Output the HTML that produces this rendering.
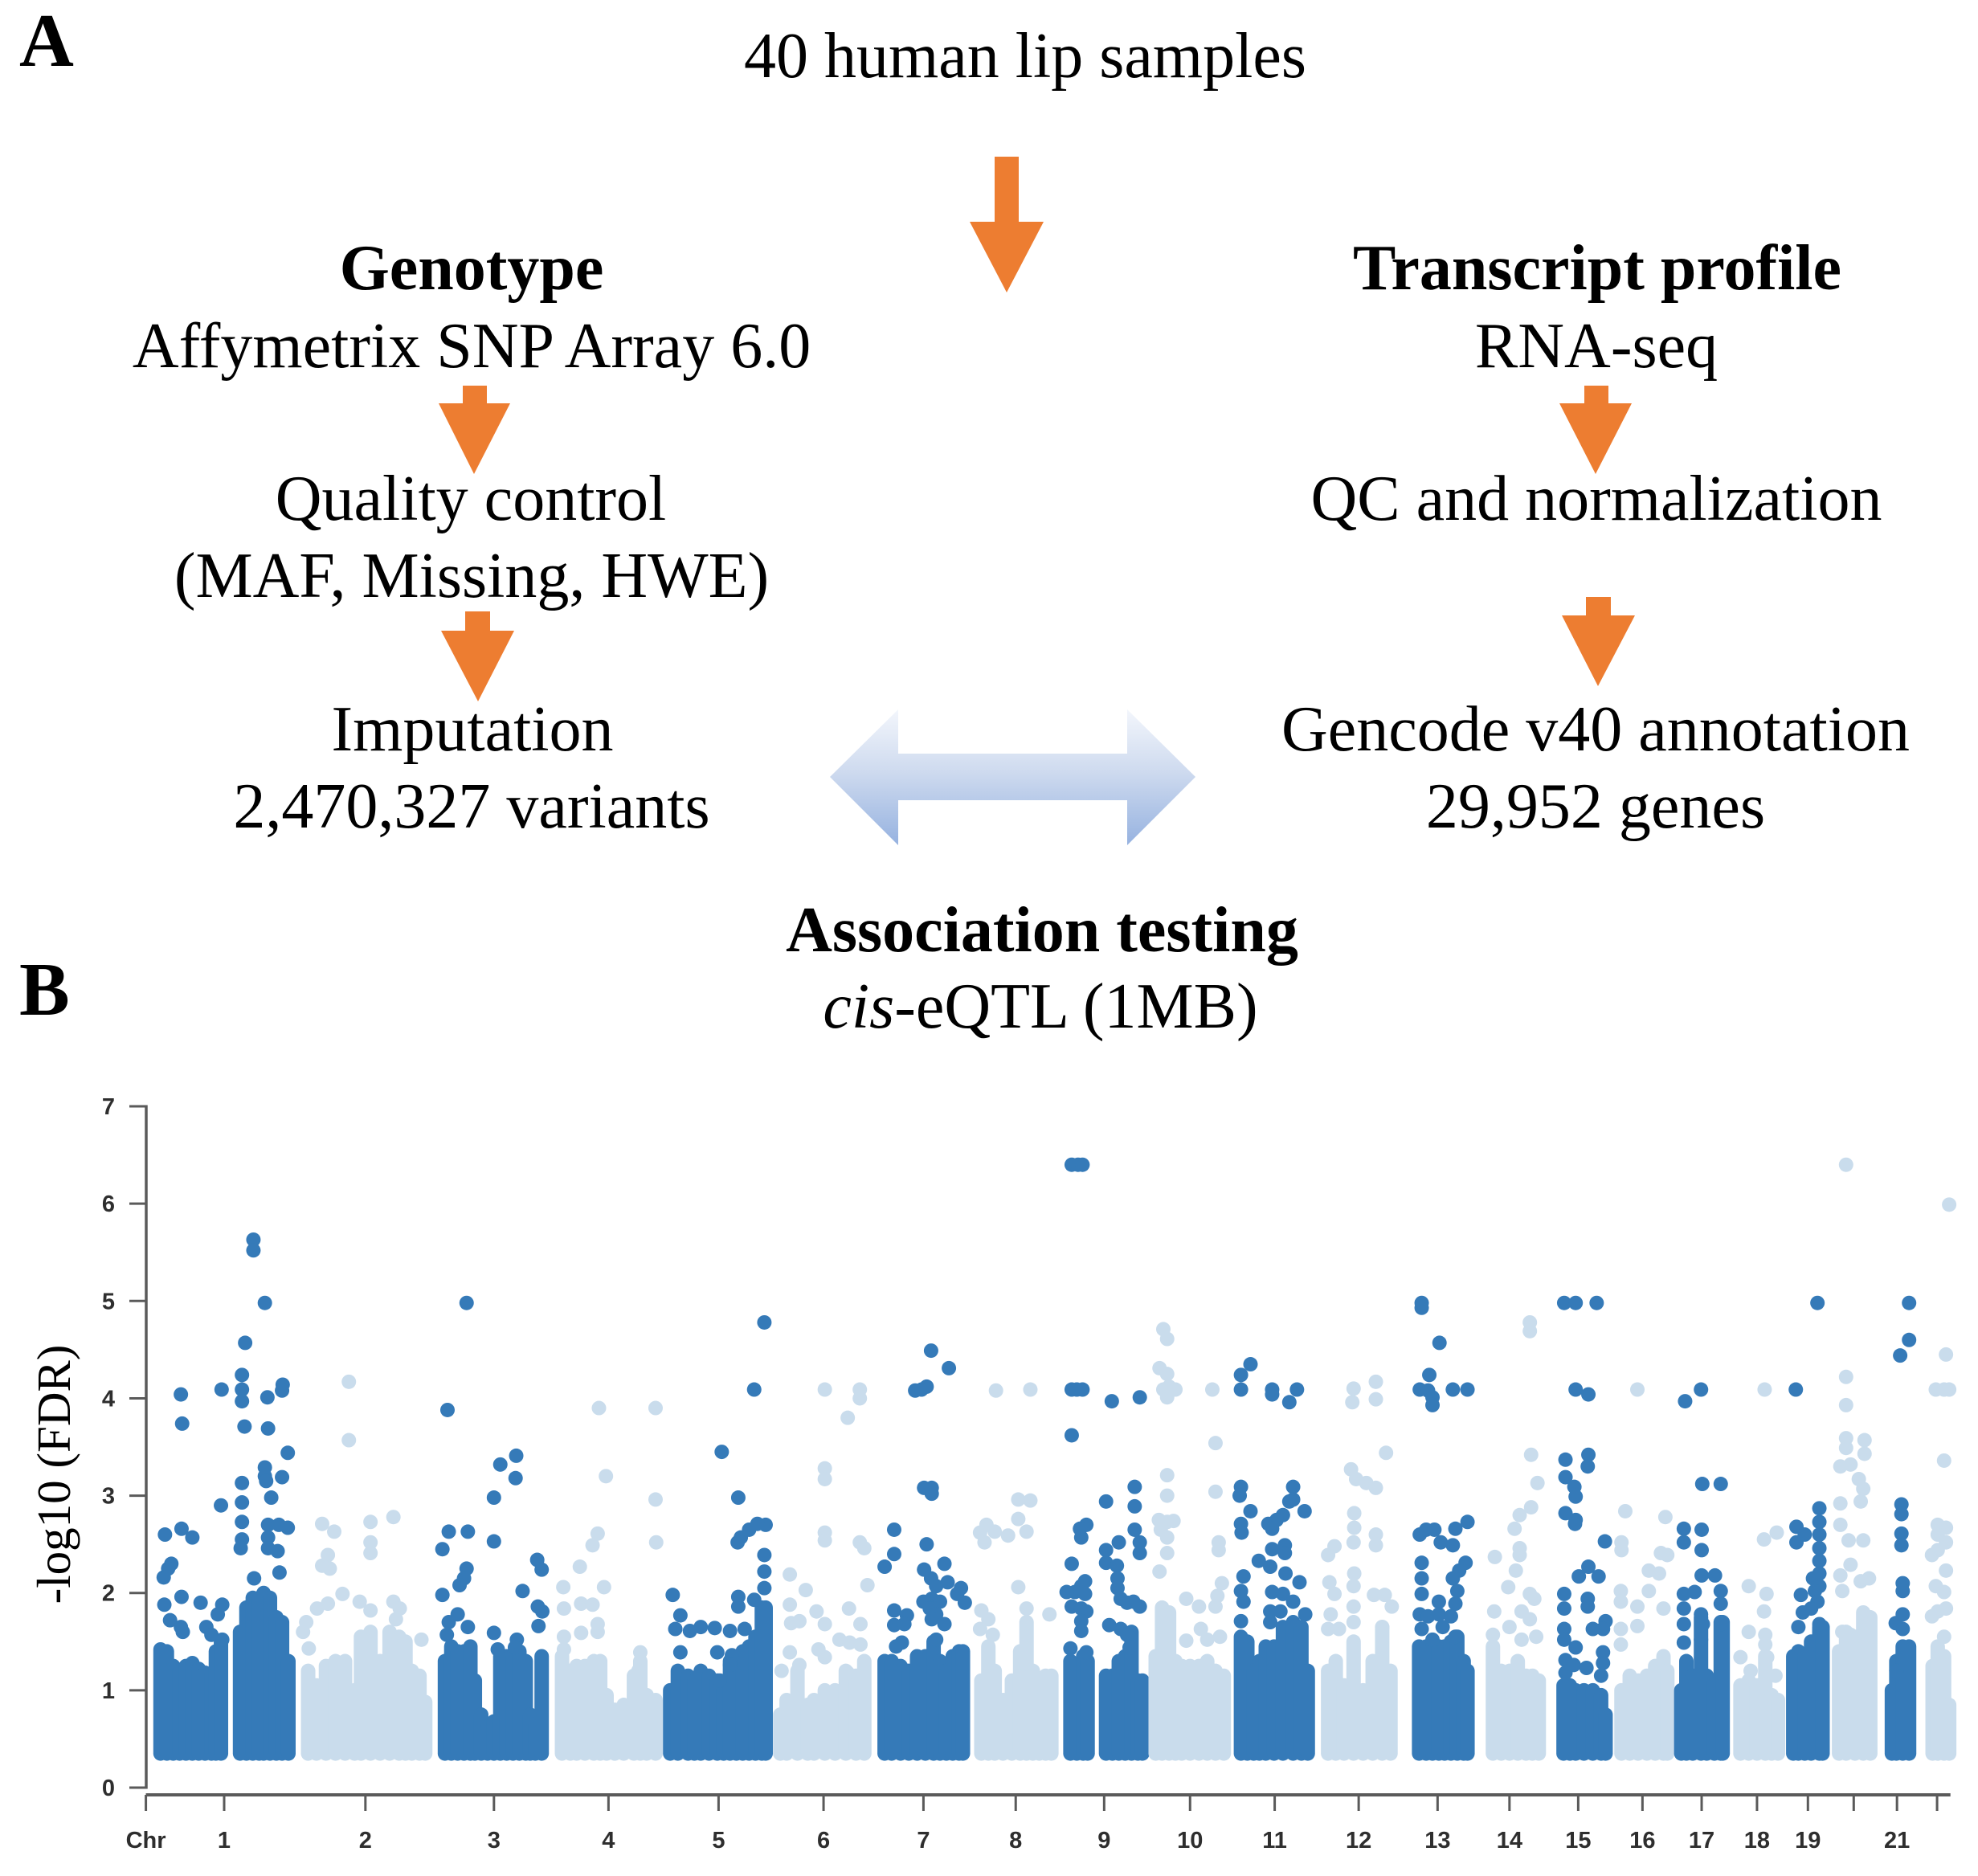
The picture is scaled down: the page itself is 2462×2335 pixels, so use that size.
<!DOCTYPE html>
<html lang="en">
<head>
<meta charset="utf-8">
<title>Lip cis-eQTL workflow and Manhattan plot</title>
<style>
html,body{margin:0;padding:0;background:#fff;}
body{width:2462px;height:2335px;overflow:hidden;}
svg{display:block;}
.serif{font-family:"Liberation Serif",serif;fill:#000;font-size:80px;text-anchor:middle;}
.bold{font-weight:700;}
.panel{font-family:"Liberation Serif",serif;font-weight:700;font-size:94px;fill:#000;}
.axis-text{font-family:"Liberation Sans",sans-serif;font-weight:700;font-size:29px;fill:#2e2e2e;}
</style>
</head>
<body>
<svg id="figure" xmlns="http://www.w3.org/2000/svg" width="2462" height="2335" viewBox="0 0 2462 2335">
<defs>
<linearGradient id="link-gradient" x1="0" y1="0" x2="0" y2="1">
<stop offset="0" stop-color="#f3f6fc"/>
<stop offset="0.45" stop-color="#cfdbef"/>
<stop offset="1" stop-color="#96b2e0"/>
</linearGradient>
</defs>
<rect width="2462" height="2335" fill="#fff"/>

<text class="panel" x="24" y="82">A</text>
<text class="panel" x="24" y="1263">B</text>

<text class="serif" x="1276" y="96">40 human lip samples</text>
<text class="serif bold" x="587" y="360">Genotype</text>
<text class="serif" x="587" y="457">Affymetrix SNP Array 6.0</text>
<text class="serif" x="586" y="647">Quality control</text>
<text class="serif" x="587" y="743">(MAF, Missing, HWE)</text>
<text class="serif" x="588" y="934">Imputation</text>
<text class="serif" x="587" y="1030">2,470,327 variants</text>
<text class="serif bold" x="1988" y="360">Transcript profile</text>
<text class="serif" x="1987" y="457">RNA-seq</text>
<text class="serif" x="1987" y="647">QC and normalization</text>
<text class="serif" x="1986" y="934">Gencode v40 annotation</text>
<text class="serif" x="1986" y="1030">29,952 genes</text>
<text class="serif bold" x="1297" y="1184">Association testing</text>
<text class="serif" x="1295" y="1279"><tspan font-style="italic">cis</tspan>-eQTL (1MB)</text>

<polygon fill="#ed7d31" points="1238,195 1268,195 1268,276 1299,276 1253,364 1207,276 1238,276"/>
<polygon fill="#ed7d31" points="576,480 606,480 606,502 635,502 590,590 546,502 576,502"/>
<polygon fill="#ed7d31" points="579,761 610,761 610,785 640,785 595,873 549,785 579,785"/>
<polygon fill="#ed7d31" points="1972,480 2002,480 2002,502 2031,502 1986,590 1941,502 1972,502"/>
<polygon fill="#ed7d31" points="1974,743 2005,743 2005,766 2035,766 1989,854 1944,766 1974,766"/>
<polygon fill="url(#link-gradient)" points="1033,967 1118,883 1118,938 1403,938 1403,883 1488,967 1403,1052 1403,996 1118,996 1118,1052"/>

<g id="chart">
<text class="serif" style="font-size:59px" transform="translate(87,1835) rotate(-90)">-log10 (FDR)</text>
<g id="marks"></g>
<g id="axes"></g>
</g>
</svg>

<script>
const chromosomes = ['1','2','3','4','5','6','7','8','9','10','11','12','13','14','15','16','17','18','19','20','21','22'];
const chrTickPositions = [125,347,549,729,902,1067,1224,1369,1508,1643,1776,1908,2032,2145,2253,2354,2447,2534,2614,2686,2754,2817];
const chrTickLabels = ['1','2','3','4','5','6','7','8','9','10','11','12','13','14','15','16','17','18','19','','21',''];
const yTickValues = [0,1,2,3,4,5,6,7];
const genomeAxisStart = 2;
const genomeAxisEnd = 2838;
const significanceFloor = 0.35;

/* Upper envelope of the dense cloud: [cumulative position (Mb), -log10 FDR] */
const chr1Cloud = [[25,1.42],[35,1.40],[45,1.25],[55,1.2],[65,1.25],[75,1.28],[85,1.22],[95,1.18],[105,1.15],[112,1.4],[120,1.5],[150,1.6],[160,1.85],[170,1.95],[180,1.95],[187,2.0],[197,1.95],[207,1.75],[216,1.7],[226,1.3]];
const chr2Cloud = [[257,1.2],[270,1.05],[285,1.25],[300,1.3],[315,1.3],[330,1.0],[340,1.55],[355,1.6],[370,1.3],[385,1.6],[400,1.55],[410,1.5],[420,1.2],[432,1.15],[441,0.88]];
const chr3Cloud = [[472,1.3],[482,1.45],[492,1.4],[502,1.4],[512,1.45],[519,1.1],[529,0.75],[539,0.62],[549,0.68],[559,1.35],[569,1.35],[579,1.35],[589,1.4],[599,1.3],[606,0.75],[614,0.65],[624,1.35]];
const chr4Cloud = [[656,1.35],[669,1.2],[679,1.25],[692,1.25],[706,1.3],[716,1.3],[726,0.95],[739,0.8],[753,0.85],[769,1.15],[779,1.3],[789,0.95],[803,0.9]];
const chr5Cloud = [[826,1.0],[838,1.2],[854,1.15],[864,1.1],[874,1.2],[887,1.15],[900,1.1],[910,1.0],[920,1.3],[930,1.35],[940,1.4],[950,1.45],[960,1.55],[970,1.85],[976,1.85]];
const chr6Cloud = [[999,0.75],[1009,0.9],[1026,1.2],[1042,0.85],[1052,0.9],[1069,1.0],[1085,1.0],[1102,1.2],[1118,1.15],[1131,1.3]];
const chr7Cloud = [[1163,1.3],[1174,1.3],[1188,1.25],[1201,1.2],[1214,1.35],[1227,1.35],[1240,1.5],[1250,1.3],[1260,1.2],[1270,1.35],[1280,1.4],[1286,1.4]];
const chr8Cloud = [[1315,1.1],[1326,1.45],[1336,1.2],[1349,0.9],[1363,1.1],[1376,1.4],[1386,1.7],[1396,1.2],[1406,0.9],[1416,1.15],[1425,1.15]];
const chr9Cloud = [[1455,1.3],[1465,1.2],[1475,1.35],[1482,1.3],[1511,1.15],[1521,1.15],[1531,1.3],[1541,1.35],[1551,1.6],[1561,1.1],[1568,1.1]];
const chr10Cloud = [[1589,1.35],[1599,1.85],[1610,1.8],[1620,1.3],[1630,1.25],[1643,1.25],[1657,1.25],[1670,1.3],[1683,1.2],[1696,1.15]];
const chr11Cloud = [[1723,1.55],[1733,1.5],[1743,1.2],[1752,1.3],[1762,1.45],[1775,1.45],[1789,1.65],[1805,1.7],[1818,1.65],[1828,1.2]];
const chr12Cloud = [[1860,1.2],[1872,1.3],[1885,1.05],[1900,1.5],[1915,1.0],[1930,1.3],[1945,1.65],[1958,1.2]];
const chr13Cloud = [[2003,1.45],[2014,1.45],[2024,1.45],[2034,1.45],[2043,1.45],[2053,1.5],[2063,1.55],[2073,1.3],[2079,1.2]];
const chr14Cloud = [[2119,1.45],[2132,1.2],[2145,1.2],[2158,1.3],[2171,1.15],[2181,1.15],[2191,1.1]];
const chr15Cloud = [[2230,1.05],[2240,1.05],[2249,1.0],[2262,1.0],[2276,1.0],[2289,0.95],[2296,0.75]];
const chr16Cloud = [[2321,1.0],[2334,1.15],[2347,1.1],[2361,1.15],[2374,1.25],[2387,1.35],[2393,1.2]];
const chr17Cloud = [[2415,1.0],[2423,1.3],[2433,1.15],[2446,1.75],[2455,1.15],[2467,1.1],[2477,1.7],[2480,1.7]];
const chr18Cloud = [[2508,1.05],[2521,1.1],[2534,1.05],[2547,1.35],[2557,0.95],[2567,0.9]];
const chr19Cloud = [[2591,1.35],[2599,1.4],[2609,1.35],[2619,1.5],[2632,1.65],[2637,1.65]];
const chr20Cloud = [[2663,1.4],[2674,1.6],[2688,1.55],[2701,1.8],[2712,1.75]];
const chr21Cloud = [[2746,1.0],[2753,1.3],[2763,1.45],[2773,1.45]];
const chr22Cloud = [[2810,1.25],[2818,1.45],[2828,1.35],[2836,0.85]];

/* Individually visible points: [cumulative position (Mb), -log10 FDR] */
const chr1Hits = [[32,2.6],[58,2.66],[75,2.57],[42,2.3],[37,2.25],[30,2.16],[58,1.96],[31,1.88],[88,1.9],[40,1.72],[57,1.65],[60,1.6],[57,4.04],[59,3.74],[121,4.09],[120,2.9],[122,1.88],[115,1.78],[97,1.65],[105,1.57],[122,1.52],[171,5.63],[171,5.52],[189,4.98],[158,4.57],[153,4.24],[153,4.09],[153,3.97],[157,3.71],[193,4.01],[194,3.69],[217,4.14],[216,4.08],[225,3.44],[189,3.29],[189,3.2],[216,3.19],[191,3.15],[153,3.13],[199,2.98],[153,2.93],[153,2.73],[194,2.7],[211,2.7],[225,2.67],[153,2.55],[151,2.46],[194,2.57],[194,2.46],[209,2.43],[172,2.15],[212,2.21]];
const chr2Hits = [[321,4.17],[321,3.57],[391,2.78],[355,2.73],[355,2.52],[355,2.41],[279,2.71],[298,2.63],[288,2.39],[279,2.28],[291,2.25],[311,1.99],[288,1.89],[271,1.84],[254,1.7],[249,1.6],[258,1.43],[338,1.91],[355,1.82],[391,1.91],[401,1.84],[395,1.73],[435,1.52]];
const chr3Hits = [[506,4.98],[476,3.88],[559,3.32],[584,3.41],[583,3.18],[549,2.98],[549,2.53],[478,2.63],[508,2.63],[468,2.45],[506,2.25],[502,2.15],[495,2.08],[468,1.98],[594,2.02],[617,2.34],[624,2.24],[618,1.86],[625,1.81],[619,1.66],[492,1.78],[478,1.7],[508,1.65],[475,1.57],[549,1.59],[585,1.52],[582,1.44],[555,1.42]];
const chr4Hits = [[714,3.9],[803,3.9],[725,3.2],[803,2.96],[804,2.52],[712,2.61],[704,2.49],[684,2.27],[722,2.06],[658,2.06],[659,1.84],[686,1.89],[704,1.88],[712,1.68],[712,1.6],[686,1.59],[659,1.55],[659,1.42],[779,1.39],[776,1.2]];
const chr5Hits = [[974,4.78],[958,4.09],[907,3.45],[933,2.98],[976,2.7],[963,2.71],[950,2.65],[937,2.57],[932,2.52],[974,2.39],[974,2.22],[974,2.05],[933,1.96],[933,1.86],[958,1.93],[830,1.98],[842,1.77],[834,1.63],[857,1.61],[874,1.65],[896,1.64],[920,1.61],[943,1.63],[842,1.39],[900,1.39],[923,1.36],[920,1.26],[904,1.1]];
const chr6Hits = [[1069,4.09],[1124,4.09],[1124,4],[1105,3.8],[1069,3.28],[1069,3.17],[1069,2.62],[1069,2.54],[1124,2.52],[1131,2.46],[1014,2.19],[1039,2.03],[1136,2.08],[1014,1.88],[1107,1.84],[1056,1.81],[1016,1.69],[1029,1.71],[1069,1.68],[1125,1.68],[1092,1.52],[1108,1.49],[1125,1.47],[1059,1.42],[1069,1.34],[1014,1.39],[1001,1.2],[1029,1.26],[1105,1.18]];
const chr7Hits = [[1236,4.49],[1264,4.31],[1211,4.08],[1221,4.09],[1229,4.12],[1225,3.08],[1237,3.08],[1237,3.02],[1178,2.65],[1229,2.5],[1178,2.4],[1163,2.27],[1257,2.3],[1225,2.24],[1236,2.15],[1244,2.07],[1262,2.11],[1283,2.05],[1289,1.9],[1277,1.99],[1237,1.94],[1224,1.91],[1250,1.91],[1234,1.84],[1244,1.78],[1237,1.73],[1257,1.68],[1178,1.82],[1198,1.77],[1178,1.67],[1194,1.68],[1190,1.49],[1181,1.45],[1244,1.52]];
const chr8Hits = [[1338,4.08],[1392,4.09],[1373,2.96],[1392,2.95],[1373,2.76],[1386,2.63],[1323,2.7],[1313,2.62],[1320,2.52],[1336,2.63],[1357,2.59],[1373,2.06],[1315,1.82],[1422,1.78],[1326,1.73],[1313,1.63],[1333,1.57],[1386,1.84]];
const chr9Hits = [[1457,6.4],[1467,6.4],[1474,6.4],[1457,4.09],[1465,4.09],[1474,4.09],[1457,3.62],[1480,2.7],[1470,2.66],[1472,2.57],[1457,2.3],[1478,2.12],[1472,2.07],[1462,2.01],[1449,2.01],[1478,1.99],[1457,1.86],[1472,1.84],[1480,1.81],[1472,1.71],[1472,1.61],[1455,1.43],[1480,1.39],[1520,3.97],[1564,4.01],[1511,2.94],[1556,3.09],[1556,2.89],[1556,2.65],[1564,2.52],[1564,2.41],[1531,2.52],[1511,2.44],[1511,2.31],[1528,2.28],[1529,2.15],[1529,2.05],[1534,1.94],[1544,1.9],[1554,1.91],[1564,1.86],[1516,1.67],[1534,1.63],[1544,1.57],[1548,1.44]];
const chr10Hits = [[1601,4.71],[1607,4.61],[1595,4.31],[1607,4.25],[1601,4.09],[1610,4.12],[1620,4.09],[1607,4.01],[1678,4.09],[1683,3.54],[1607,3.21],[1607,3.0],[1683,3.04],[1594,2.75],[1607,2.73],[1617,2.74],[1597,2.65],[1607,2.57],[1607,2.41],[1688,2.52],[1688,2.44],[1595,2.22],[1693,2.1],[1637,1.94],[1657,1.86],[1686,1.97],[1683,1.86],[1660,1.63],[1690,1.55],[1637,1.51],[1670,1.52]];
const chr11Hits = [[1738,4.35],[1723,4.24],[1723,4.09],[1772,4.09],[1772,4.04],[1811,4.09],[1799,3.96],[1723,3.09],[1721,3.0],[1805,3.09],[1805,2.96],[1799,2.94],[1738,2.84],[1823,2.84],[1789,2.8],[1779,2.75],[1766,2.71],[1772,2.66],[1723,2.71],[1724,2.62],[1792,2.49],[1772,2.45],[1792,2.41],[1751,2.33],[1769,2.27],[1793,2.2],[1815,2.11],[1727,2.17],[1723,2.02],[1727,1.91],[1772,2.01],[1789,1.99],[1805,1.91],[1769,1.81],[1785,1.81],[1824,1.78],[1723,1.71],[1769,1.7]];
const chr12Hits = [[1900,4.1],[1898,3.96],[1935,4.17],[1935,3.99],[1951,3.44],[1896,3.27],[1904,3.17],[1920,3.13],[1935,3.08],[1901,2.82],[1901,2.67],[1900,2.52],[1935,2.6],[1935,2.49],[1870,2.48],[1860,2.39],[1901,2.2],[1862,2.11],[1870,1.99],[1900,2.07],[1900,1.86],[1932,1.98],[1949,1.98],[1960,1.86],[1864,1.78],[1860,1.63],[1877,1.63],[1900,1.7],[1945,1.65]];
const chr13Hits = [[2007,4.98],[2007,4.93],[2035,4.57],[2019,4.24],[2004,4.09],[2017,4.08],[2024,4.01],[2024,3.93],[2056,4.09],[2079,4.09],[2079,2.73],[2060,2.66],[2004,2.6],[2014,2.65],[2027,2.65],[2037,2.52],[2056,2.49],[2007,2.31],[2007,2.15],[2007,1.99],[2076,2.31],[2066,2.23],[2056,2.15],[2063,2.02],[2060,1.89],[2034,1.91],[2004,1.78],[2017,1.76],[2034,1.78],[2053,1.76],[2007,1.63],[2040,1.65],[2060,1.55],[2024,1.52]];
const chr14Hits = [[2177,4.78],[2177,4.69],[2179,3.42],[2189,3.13],[2179,2.88],[2161,2.8],[2153,2.66],[2161,2.46],[2161,2.39],[2122,2.37],[2155,2.23],[2143,2.06],[2177,1.99],[2184,1.94],[2121,1.81],[2164,1.81],[2145,1.65],[2177,1.73],[2119,1.57],[2187,1.55],[2164,1.52]];
const chr15Hits = [[2231,4.98],[2249,4.98],[2282,4.98],[2249,4.09],[2269,4.04],[2269,3.42],[2268,3.3],[2233,3.37],[2233,3.19],[2247,3.09],[2249,2.99],[2233,2.82],[2249,2.75],[2248,2.71],[2295,2.53],[2269,2.27],[2254,2.17],[2285,2.17],[2231,1.99],[2231,1.84],[2268,1.94],[2268,1.86],[2296,1.71],[2276,1.63],[2292,1.63],[2231,1.63],[2231,1.52],[2249,1.44],[2292,1.39],[2233,1.31],[2246,1.26],[2266,1.23],[2292,1.28],[2289,1.15],[2233,1.18]];
const chr16Hits = [[2346,4.09],[2327,2.84],[2390,2.78],[2321,2.52],[2321,2.44],[2383,2.41],[2393,2.39],[2364,2.23],[2380,2.2],[2364,2.02],[2320,2.02],[2320,1.91],[2346,1.86],[2387,1.84],[2346,1.66],[2320,1.63],[2320,1.47]];
const chr17Hits = [[2446,4.09],[2421,3.97],[2448,3.12],[2477,3.12],[2419,2.66],[2447,2.65],[2419,2.52],[2447,2.44],[2447,2.18],[2468,2.18],[2477,2.02],[2477,1.89],[2419,1.99],[2436,2.01],[2419,1.84],[2446,1.78],[2419,1.68],[2449,1.68],[2478,1.68],[2419,1.49],[2446,1.52]];
const chr18Hits = [[2546,4.09],[2565,2.62],[2545,2.55],[2521,2.07],[2549,1.99],[2545,1.81],[2521,1.6],[2547,1.57],[2547,1.47],[2550,1.34],[2508,1.34],[2524,1.2],[2563,1.15]];
const chr19Hits = [[2629,4.98],[2595,4.09],[2632,2.87],[2632,2.73],[2596,2.68],[2609,2.6],[2596,2.52],[2632,2.6],[2632,2.46],[2632,2.33],[2632,2.2],[2622,2.15],[2632,2.07],[2625,2.02],[2603,1.98],[2629,1.91],[2606,1.8],[2619,1.84],[2599,1.65],[2632,1.68]];
const chr20Hits = [[2674,6.4],[2674,4.22],[2674,3.93],[2674,3.59],[2674,3.49],[2703,3.57],[2703,3.43],[2665,3.3],[2681,3.32],[2694,3.17],[2701,3.07],[2697,2.94],[2665,2.92],[2665,2.7],[2678,2.54],[2701,2.54],[2681,2.29],[2665,2.18],[2668,2.02],[2697,2.12],[2710,2.15],[2668,1.6],[2681,1.57]];
const chr21Hits = [[2773,4.98],[2773,4.6],[2759,4.44],[2761,2.91],[2761,2.81],[2761,2.61],[2761,2.49],[2763,2.1],[2763,2.02],[2763,1.78],[2752,1.69],[2763,1.63],[2753,1.2]];
const chr22Hits = [[2836,5.99],[2831,4.45],[2815,4.09],[2828,4.09],[2836,4.09],[2828,3.36],[2818,2.7],[2831,2.67],[2818,2.6],[2831,2.52],[2809,2.39],[2818,2.44],[2831,2.23],[2815,2.07],[2828,2.01],[2818,1.81],[2831,1.84],[2809,1.76],[2828,1.55]];

const chrClouds = [chr1Cloud,chr2Cloud,chr3Cloud,chr4Cloud,chr5Cloud,chr6Cloud,chr7Cloud,chr8Cloud,chr9Cloud,chr10Cloud,chr11Cloud,chr12Cloud,chr13Cloud,chr14Cloud,chr15Cloud,chr16Cloud,chr17Cloud,chr18Cloud,chr19Cloud,chr20Cloud,chr21Cloud,chr22Cloud];
const chrHits = [chr1Hits,chr2Hits,chr3Hits,chr4Hits,chr5Hits,chr6Hits,chr7Hits,chr8Hits,chr9Hits,chr10Hits,chr11Hits,chr12Hits,chr13Hits,chr14Hits,chr15Hits,chr16Hits,chr17Hits,chr18Hits,chr19Hits,chr20Hits,chr21Hits,chr22Hits];

const SVG_NS = 'http://www.w3.org/2000/svg';
const DARK = '#357ab8';
const LIGHT = '#c9dcec';
const AXIS = '#5a5a5a';
const xScale = function (mb) { return 180 + mb * 0.792; };
const yScale = function (v) { return 2225 - v * 121.14; };
const marks = document.getElementById('marks');
const axes = document.getElementById('axes');

function svgEl(tag, parent) {
  const el = document.createElementNS(SVG_NS, tag);
  parent.appendChild(el);
  return el;
}

chromosomes.forEach(function (chr, i) {
  const color = i % 2 === 0 ? DARK : LIGHT;
  const group = svgEl('g', marks);
  
  
  chrClouds[i].forEach(function (d) {
    const col = svgEl('line', group);
    
    
    col.setAttribute('x1', xScale(d[0]));
    col.setAttribute('x2', xScale(d[0]));
    col.setAttribute('y1', yScale(significanceFloor));
    col.setAttribute('y2', yScale(d[1]));
    col.setAttribute('stroke', color);
    col.setAttribute('stroke-width', 18);
    col.setAttribute('stroke-linecap', 'round');
  });
  chrHits[i].forEach(function (d) {
    const pt = svgEl('circle', group);
    
    
    pt.setAttribute('cx', xScale(d[0]));
    pt.setAttribute('cy', yScale(d[1]));
    pt.setAttribute('r', 9);
    pt.setAttribute('fill', color);
  });
});

const yAxisLine = svgEl('line', axes);


yAxisLine.setAttribute('x1', 182);
yAxisLine.setAttribute('x2', 182);
yAxisLine.setAttribute('y1', yScale(yTickValues[yTickValues.length - 1]) - 1.5);
yAxisLine.setAttribute('y2', yScale(0) + 1.5);
yAxisLine.setAttribute('stroke', AXIS);
yAxisLine.setAttribute('stroke-width', 3.5);

yTickValues.forEach(function (v) {
  const tick = svgEl('line', axes);
  
  
  tick.setAttribute('x1', 161);
  tick.setAttribute('x2', 182);
  tick.setAttribute('y1', yScale(v));
  tick.setAttribute('y2', yScale(v));
  tick.setAttribute('stroke', AXIS);
  tick.setAttribute('stroke-width', 3);
  const label = svgEl('text', axes);
  
  
  label.setAttribute('class', 'axis-text');
  label.setAttribute('x', 143);
  label.setAttribute('y', yScale(v) + 10);
  label.setAttribute('text-anchor', 'end');
  label.textContent = String(v);
});

const xAxisLine = svgEl('line', axes);


xAxisLine.setAttribute('x1', xScale(genomeAxisStart));
xAxisLine.setAttribute('x2', xScale(genomeAxisEnd));
xAxisLine.setAttribute('y1', 2234);
xAxisLine.setAttribute('y2', 2234);
xAxisLine.setAttribute('stroke', AXIS);
xAxisLine.setAttribute('stroke-width', 4);

const startTick = svgEl('line', axes);


startTick.setAttribute('x1', xScale(genomeAxisStart));
startTick.setAttribute('x2', xScale(genomeAxisStart));
startTick.setAttribute('y1', 2234);
startTick.setAttribute('y2', 2254);
startTick.setAttribute('stroke', AXIS);
startTick.setAttribute('stroke-width', 3);

const chrTitle = svgEl('text', axes);


chrTitle.setAttribute('class', 'axis-text');
chrTitle.setAttribute('x', xScale(genomeAxisStart));
chrTitle.setAttribute('y', 2300);
chrTitle.setAttribute('text-anchor', 'middle');
chrTitle.textContent = 'Chr';

chrTickPositions.forEach(function (p, i) {
  const tick = svgEl('line', axes);
  
  
  tick.setAttribute('x1', xScale(p));
  tick.setAttribute('x2', xScale(p));
  tick.setAttribute('y1', 2234);
  tick.setAttribute('y2', 2254);
  tick.setAttribute('stroke', AXIS);
  tick.setAttribute('stroke-width', 3);
  if (chrTickLabels[i]) {
    const label = svgEl('text', axes);
    
    
    label.setAttribute('class', 'axis-text');
    label.setAttribute('x', xScale(p));
    label.setAttribute('y', 2300);
    label.setAttribute('text-anchor', 'middle');
    label.textContent = chrTickLabels[i];
  }
});
</script>
</body>
</html>
